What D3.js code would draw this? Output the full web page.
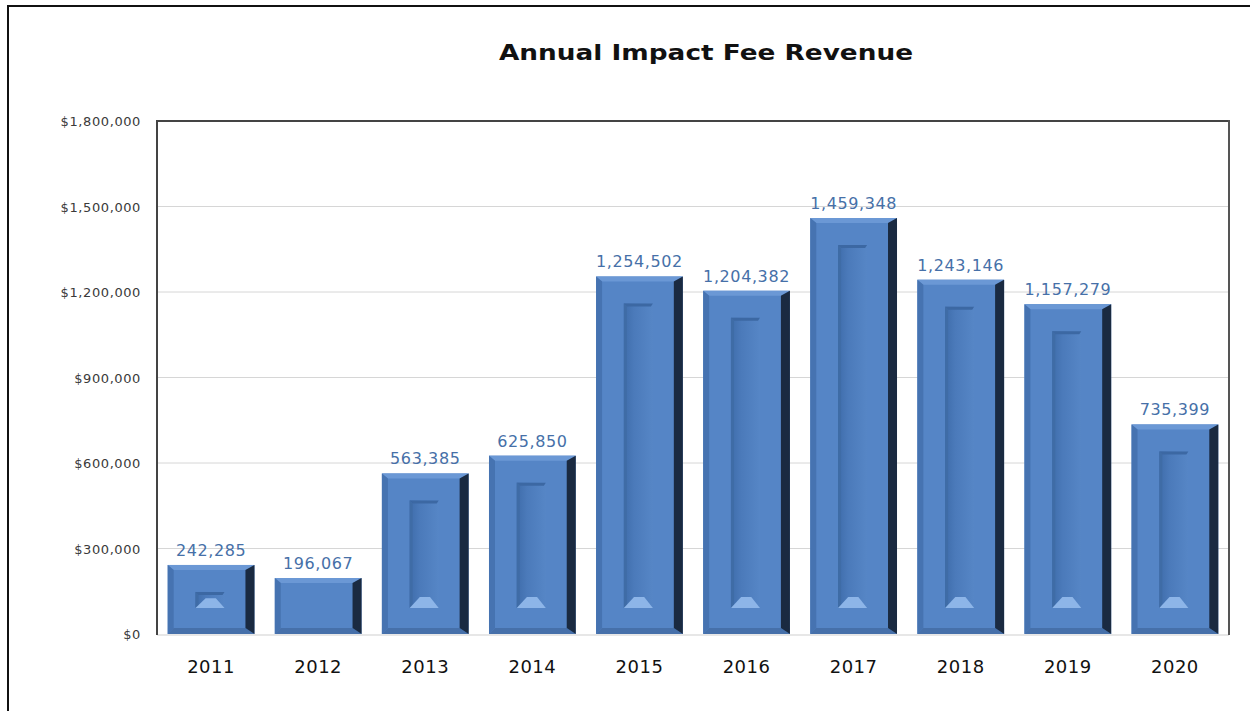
<!DOCTYPE html>
<html><head><meta charset="utf-8">
<script src="https://cdn.jsdelivr.net/npm/d3@7"></script>
<style>body{margin:0;background:#fff}svg{display:block}</style>
</head><body>
<svg id="c" width="1250" height="711"></svg>
<script>
const years = ["2011","2012","2013","2014","2015","2016","2017","2018","2019","2020"];
const revenue = [242285,196067,563385,625850,1254502,1204382,1459348,1243146,1157279,735399];
const yTicks = [0,300000,600000,900000,1200000,1500000,1800000];
const title = "Annual Impact Fee Revenue";

const svg = d3.select("#c");
const L=157,R=1229,T=121,B=634;
const x = d3.scaleBand().domain(years).range([L,R]).paddingInner(0.19).paddingOuter(0.1);
const y = d3.scaleLinear().domain([0,1800000]).range([B,T]);

// outer frame
svg.append("line").attr("x1",8).attr("x2",8).attr("y1",5).attr("y2",711).attr("stroke","#111").attr("stroke-width",2);
svg.append("line").attr("x1",7).attr("x2",1250).attr("y1",6).attr("y2",6).attr("stroke","#111").attr("stroke-width",2);

// title
svg.append("text").attr("x",706).attr("y",60).attr("text-anchor","middle")
  .attr("font-family","DejaVu Sans").attr("font-weight","bold").attr("font-size",22)
  .attr("textLength",414).attr("lengthAdjust","spacingAndGlyphs")
  .attr("fill","#111").text(title);

// gridlines
svg.append("g").selectAll("line").data(yTicks.slice(1,-1)).join("line")
  .attr("x1",L).attr("x2",R).attr("y1",d=>y(d)).attr("y2",d=>y(d))
  .attr("stroke","#d6d6d6").attr("stroke-width",1);
svg.append("line").attr("x1",L).attr("x2",R).attr("y1",B+1).attr("y2",B+1).attr("stroke","#cfcfcf");

// y axis labels
const fmt = d3.format(",");
svg.append("g").selectAll("text").data(yTicks).join("text")
  .attr("x",141).attr("y",d=>y(d)+5).attr("text-anchor","end")
  .attr("font-family","DejaVu Sans").attr("font-size",13).attr("letter-spacing",0.6)
  .attr("fill","#3a3a3a").text(d=>"$"+fmt(d));

// plot border
svg.append("line").attr("x1",L).attr("x2",R).attr("y1",T).attr("y2",T).attr("stroke","#444").attr("stroke-width",2);
svg.append("line").attr("x1",R).attr("x2",R).attr("y1",T-1).attr("y2",B+1).attr("stroke","#555").attr("stroke-width",2);
svg.append("line").attr("x1",L).attr("x2",L).attr("y1",T-1).attr("y2",B+1).attr("stroke","#444").attr("stroke-width",2);

// gradients
const defs = svg.append("defs");
const g1 = defs.append("linearGradient").attr("id","inner").attr("x1",0).attr("x2",1).attr("y1",0).attr("y2",0);
g1.append("stop").attr("offset",0).attr("stop-color","#3f6dab");
g1.append("stop").attr("offset",0.35).attr("stop-color","#4b7aba");
g1.append("stop").attr("offset",1).attr("stop-color","#5686c6");

// bars
const bars = svg.append("g").selectAll("g").data(years.map((d,i)=>({year:d,v:revenue[i]}))).join("g");
bars.each(function(d){
  const g = d3.select(this);
  const x0 = x(d.year), w = x.bandwidth(), x1 = x0+w;
  const t = y(d.v), b = y(0);
  const bt=5, bl=6, bb=6, br=9;
  g.append("rect").attr("x",x0).attr("y",t).attr("width",w).attr("height",b-t).attr("fill","#5585c6");
  const poly = (pts,fill)=>g.append("polygon").attr("points",pts.map(p=>p.join(",")).join(" ")).attr("fill",fill);
  poly([[x0,t],[x1,t],[x1-br,t+bt],[x0+bl,t+bt]],"#6b98d5");
  poly([[x0,t],[x0+bl,t+bt],[x0+bl,b-bb],[x0,b]],"#4673b1");
  poly([[x0,b],[x0+bl,b-bb],[x1-br,b-bb],[x1,b]],"#4670aa");
  poly([[x1,t],[x1,b],[x1-br,b-bb],[x1-br,t+bt]],"#1a2a41");
  // inner recessed panel
  const ix0 = x0+w*0.32, ix1 = x0+w*0.655;
  const it = t+27, ib = b-26;
  if (ib-it > 4) {
    g.append("rect").attr("x",ix0).attr("y",it).attr("width",ix1-ix0).attr("height",ib-it).attr("fill","url(#inner)");
    poly([[ix0,it],[ix1,it],[ix1-2,it+3],[ix0+3,it+3]],"#3c68a3");
    poly([[ix0,it],[ix0+3,it+3],[ix0+3,ib],[ix0,ib]],"#3f6ca6");
    const hh = Math.min(11,(ib-it)*0.6);
    poly([[ix0,ib],[ix0+(ix1-ix0)*0.35,ib-hh],[ix1-(ix1-ix0)*0.3,ib-hh],[ix1,ib]],"#8db5e8");
  }
});

// value labels
svg.append("g").selectAll("text").data(revenue).join("text")
  .attr("x",(d,i)=>x(years[i])+x.bandwidth()/2).attr("y",d=>y(d)-9)
  .attr("text-anchor","middle").attr("font-family","DejaVu Sans").attr("font-size",16)
  .attr("letter-spacing",0.6).attr("fill","#4670a8").text(d=>fmt(d));

// x labels
svg.append("g").selectAll("text").data(years).join("text")
  .attr("x",d=>x(d)+x.bandwidth()/2).attr("y",673).attr("text-anchor","middle")
  .attr("font-family","DejaVu Sans").attr("font-size",18).attr("letter-spacing",0.5)
  .attr("fill","#111").text(d=>d);
</script>
</body></html>
